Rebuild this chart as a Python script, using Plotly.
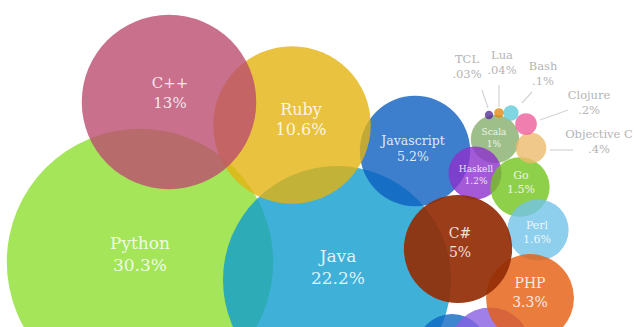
import plotly.graph_objects as go

# ---- data ----
languages = ["Python", "Java", "Javascript", "Ruby", "C++", "Scala", "Haskell", "Go",
             "Perl", "", "", "PHP", "C#", "Objective C", "Clojure", "Bash", "Lua", "TCL"]
shares = [30.3, 22.2, 5.2, 10.6, 13, 1.0, 1.2, 1.5, 1.6, 2.2, 2.8, 3.3, 5.0, 0.4, 0.2, 0.1, 0.04, 0.03]
share_labels = ["30.3%", "22.2%", "5.2%", "10.6%", "13%", "1%", "1.2%", "1.5%",
                "1.6%", "", "", "3.3%", "5%", ".4%", ".2%", ".1%", ".04%", ".03%"]

# ---- layout (pixel space positions) ----
cx = [140, 337, 415, 292, 169, 495, 475, 520, 538, 452, 490, 530, 458, 531, 526, 511, 499, 489]
cy = [262, 280, 151, 125, 102, 139, 173, 187, 230, 350, 348, 298, 249, 148, 124, 113, 113, 115]
colors = ["rgb(141,223,49)", "rgb(15,156,206)", "rgb(13,95,191)", "rgb(228,179,15)",
          "rgb(188,76,111)", "rgb(135,175,109)", "rgb(141,49,204)", "rgb(115,196,29)",
          "rgb(115,195,234)", "rgb(14,104,196)", "rgb(136,96,226)", "rgb(229,93,14)",
          "rgb(147,45,5)", "rgb(236,186,109)", "rgb(236,95,156)", "rgb(95,204,216)",
          "rgb(226,136,16)", "rgb(89,49,156)"]
opacities = [0.8] * 12 + [0.92] + [0.8] * 5

# inside labels: index -> (x, y, font size)
inside = {0: (140, 256, 17), 1: (338, 269, 17), 4: (170, 94, 15), 3: (301, 121, 16),
          2: (413, 150, 12.5), 6: (476, 176, 9), 5: (494, 139, 9), 7: (521, 183, 11),
          8: (537, 233, 11), 11: (530, 294, 14), 12: (460, 244, 14)}
# outside labels: index -> (label x, label y, line start, line end)
outside = {17: (467, 68, (482, 90), (488, 108)),
           16: (502, 64, (499, 85), (499, 107)),
           15: (543, 75, (532, 92), (522, 103)),
           14: (589, 104, (568, 110), (540, 120)),
           13: (599, 143, (573, 150), (550, 150))}

fig = go.Figure()
fig.add_trace(go.Scatter(
    x=cx, y=cy, mode="markers",
    marker=dict(size=shares, sizemode="area", sizeref=1 / (2 * 585.6),
                color=colors, opacity=opacities, line=dict(width=0)),
    hoverinfo="skip", showlegend=False))

# leader lines
for i, (lx, ly, p0, p1) in outside.items():
    fig.add_trace(go.Scatter(x=[p0[0], p1[0]], y=[p0[1], p1[1]], mode="lines",
                             line=dict(color="#d4d4d4", width=1.2),
                             hoverinfo="skip", showlegend=False))

tx, ty, tt, ts, tc = [], [], [], [], []
for i, (x, y, s) in inside.items():
    tx.append(x); ty.append(y); ts.append(s)
    tt.append(f"{languages[i]}<br>{share_labels[i]}")
    tc.append("rgba(255,255,255,0.85)")
for i, (x, y, p0, p1) in outside.items():
    tx.append(x); ty.append(y); ts.append(11.5)
    tt.append(f"{languages[i]}<br>{share_labels[i]}")
    tc.append("#b4b4b4")

fig.add_trace(go.Scatter(x=tx, y=ty, mode="text", text=tt,
                         textfont=dict(family="DejaVu Serif", size=ts, color=tc),
                         textposition="middle center", hoverinfo="skip", showlegend=False))

fig.update_layout(
    width=640, height=327, margin=dict(l=0, r=0, t=0, b=0),
    paper_bgcolor="white", plot_bgcolor="white",
    xaxis=dict(range=[0, 640], visible=False, fixedrange=True),
    yaxis=dict(range=[327, 0], visible=False, fixedrange=True),
)
fig.write_html("out.html", config={"displayModeBar": False})
